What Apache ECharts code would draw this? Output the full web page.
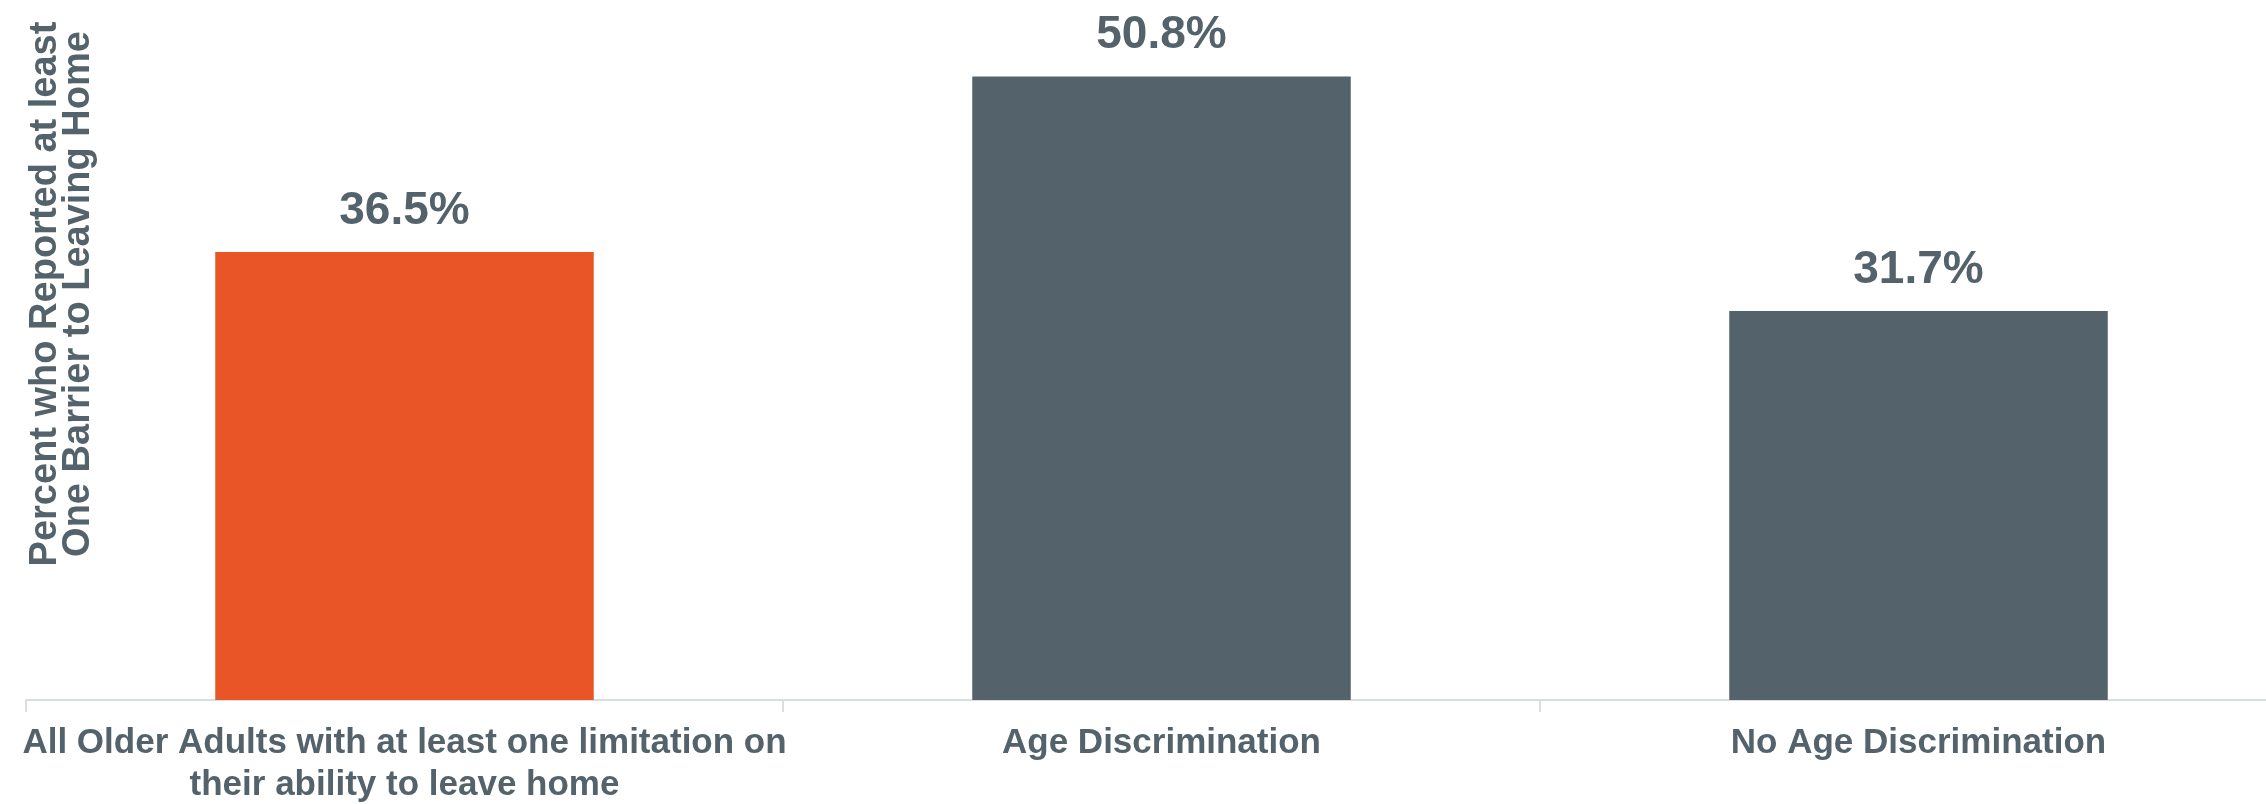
<!DOCTYPE html>
<html><head><meta charset="utf-8">
<script src="https://cdn.jsdelivr.net/npm/echarts@6/dist/echarts.min.js"></script>
<style>html,body{margin:0;padding:0;background:#fff}#c{width:2266px;height:804px}</style>
</head><body><div id="c"></div>
<script>
const categories = ["All Older Adults with at least one limitation on\ntheir ability to leave home", "Age Discrimination", "No Age Discrimination"];
const values = [36.5, 50.8, 31.7];
const barColors = ["#E95527", "#54636B", "#54636B"];
const yTitle = "Percent who Reported at least\nOne Barrier to Leaving Home";

const textColor = "#54636B";
const chart = echarts.init(document.getElementById('c'));
chart.setOption({
  animation: false,
  grid: {left: 26, right: -31, top: 25, bottom: 104, containLabel: false, outerBoundsMode: 'none'},
  xAxis: {
    type: 'category', data: categories,
    axisLine: {lineStyle: {color: '#D9DEE2', width: 2}},
    axisTick: {show: true, length: 12, lineStyle: {color: '#D9DEE2', width: 2}},
    axisLabel: {interval: 0, margin: 22, color: textColor, fontFamily: '"Liberation Sans", Arial, sans-serif', fontWeight: 'bold', fontSize: 35, lineHeight: 42}
  },
  yAxis: {type: 'value', min: 0, max: 55, show: false, splitLine: {show: false}},
  graphic: [{
    type: 'text', rotation: Math.PI / 2, x: 62, y: 294,
    style: {text: yTitle, fill: textColor, font: 'bold 38px "Liberation Sans", Arial, sans-serif', textAlign: 'center', textVerticalAlign: 'middle', lineHeight: 33}
  }],
  series: [{
    type: 'bar', barWidth: '50%',
    data: values.map((v, i) => ({value: v, itemStyle: {color: barColors[i]}})),
    label: {show: true, position: 'top', distance: 18, formatter: p => p.value.toFixed(1) + '%', color: textColor, fontFamily: '"Liberation Sans", Arial, sans-serif', fontWeight: 'bold', fontSize: 46}
  }]
});
</script></body></html>
